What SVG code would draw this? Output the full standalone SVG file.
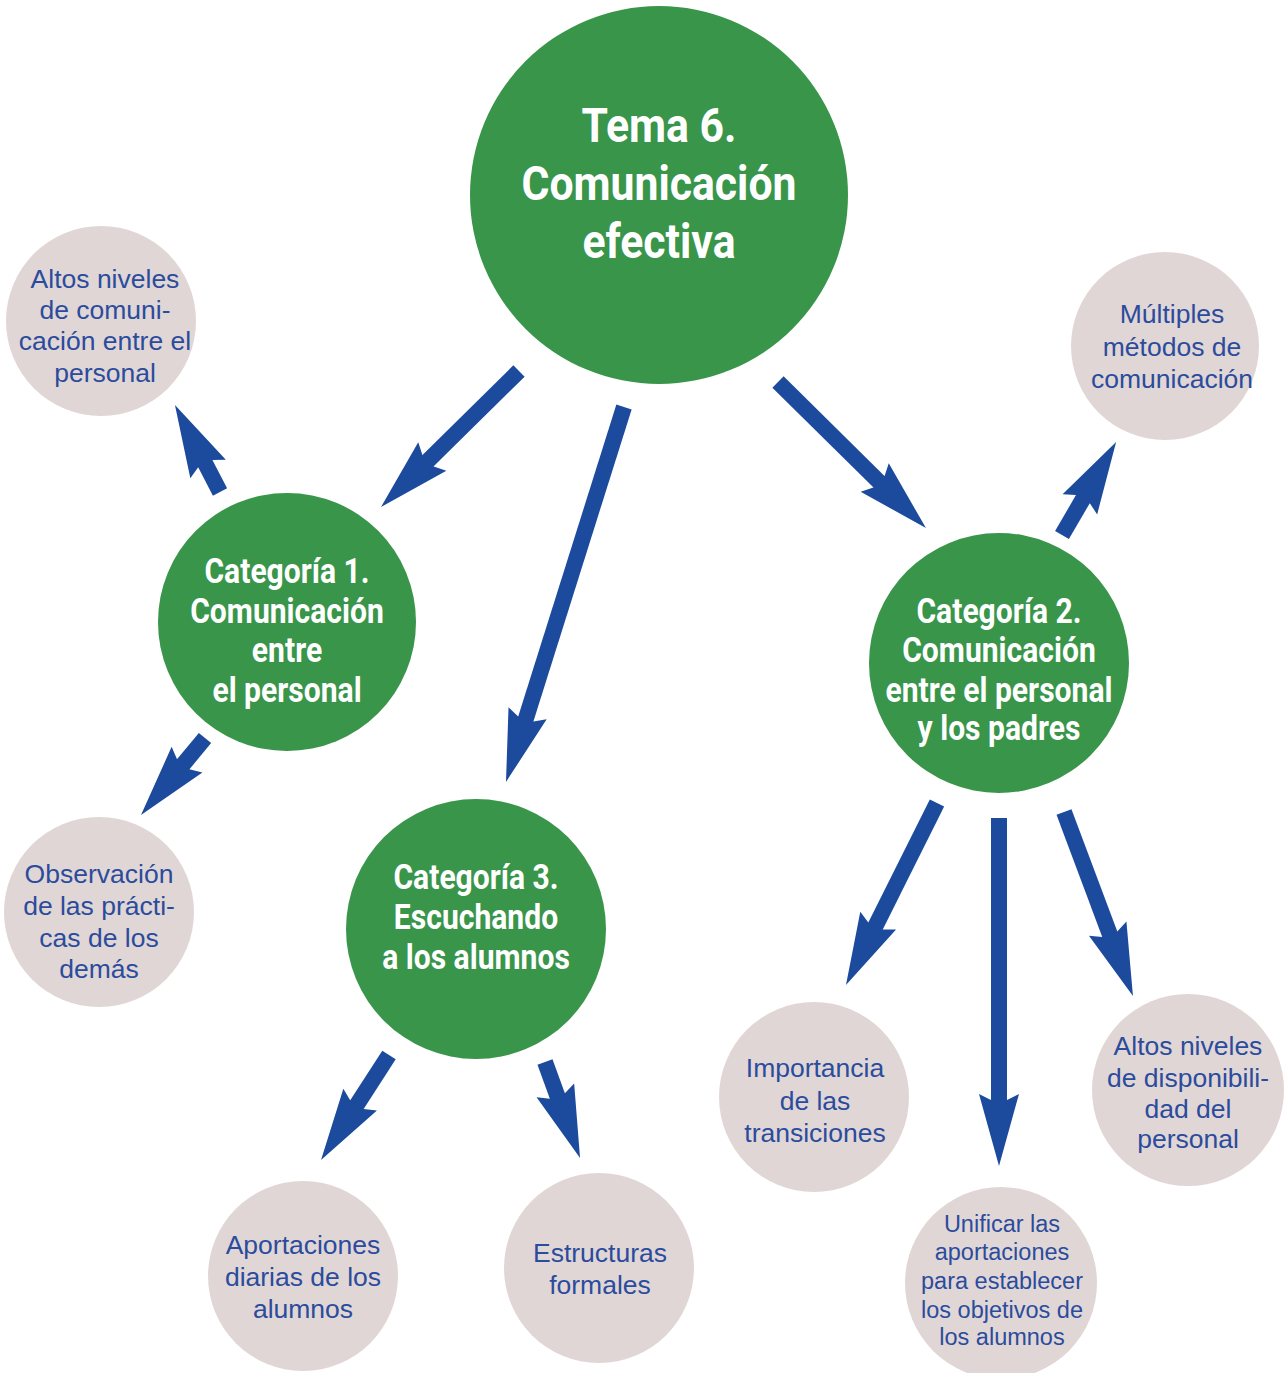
<svg xmlns="http://www.w3.org/2000/svg" width="1284" height="1373" viewBox="0 0 1284 1373">
<style>
.g{fill:#38954a}
.p{fill:#e1d6d6}
.gt{font-family:"Roboto","Liberation Sans",sans-serif;font-weight:bold;fill:#ffffff;text-anchor:middle}
.pt{font-family:"Liberation Sans",Arial,sans-serif;fill:#2b4c9c;text-anchor:middle;font-size:26.5px}
.a{stroke:#1c4a9c;stroke-width:16;fill:none;marker-end:url(#ah)}
</style>
<defs>
<marker id="ah" markerUnits="userSpaceOnUse" viewBox="-75 -22 77 44" refX="-64" refY="0" markerWidth="77" markerHeight="44" orient="auto" overflow="visible">
<path d="M0,0 L-72,-20 L-66,-8 L-66,8 L-72,20 Z" fill="#1c4a9c"/>
</marker>
</defs>
<rect width="1284" height="1373" fill="#ffffff"/>
<g id="connectors">
<line class="a" x1="519" y1="371" x2="426.6" y2="462.1"/>
<line class="a" x1="624" y1="407" x2="525.2" y2="720.9"/>
<line class="a" x1="778" y1="382" x2="880.4" y2="483.1"/>
<line class="a" x1="220" y1="492" x2="204.4" y2="461.9"/>
<line class="a" x1="205" y1="738" x2="181.9" y2="765.8"/>
<line class="a" x1="1062" y1="535" x2="1083.9" y2="497.4"/>
<line class="a" x1="937" y1="803" x2="874.6" y2="927.8"/>
<line class="a" x1="999" y1="818" x2="999" y2="1102"/>
<line class="a" x1="1064" y1="812" x2="1110.5" y2="936.1"/>
<line class="a" x1="389" y1="1055" x2="355.8" y2="1106.3"/>
<line class="a" x1="545" y1="1062" x2="558.1" y2="1097.9"/>
</g>
<g id="tema6">
<circle class="g" cx="659" cy="195" r="189"/>
<text class="gt" font-size="48" transform="translate(659,0) scale(0.89,1)"><tspan x="0" y="142">Tema 6.</tspan><tspan x="0" y="200">Comunicación</tspan><tspan x="0" y="258">efectiva</tspan></text>
</g>
<g id="cat1">
<circle class="g" cx="287" cy="622" r="129"/>
<text class="gt" font-size="35" transform="translate(287,0) scale(0.86,1)"><tspan x="0" y="583">Categoría 1.</tspan><tspan x="0" y="623">Comunicación</tspan><tspan x="0" y="662">entre</tspan><tspan x="0" y="702">el personal</tspan></text>
</g>
<g id="cat2">
<circle class="g" cx="999" cy="663" r="130"/>
<text class="gt" font-size="35" transform="translate(999,0) scale(0.86,1)"><tspan x="0" y="623">Categoría 2.</tspan><tspan x="0" y="662">Comunicación</tspan><tspan x="0" y="702">entre el personal</tspan><tspan x="0" y="740">y los padres</tspan></text>
</g>
<g id="cat3">
<circle class="g" cx="476" cy="929" r="130"/>
<text class="gt" font-size="35" transform="translate(476,0) scale(0.86,1)"><tspan x="0" y="889">Categoría 3.</tspan><tspan x="0" y="929">Escuchando</tspan><tspan x="0" y="969">a los alumnos</tspan></text>
</g>
<g id="altos-comunicacion">
<circle class="p" cx="101" cy="321" r="95"/>
<text class="pt"><tspan x="105" y="288">Altos niveles</tspan><tspan x="105" y="319">de comuni-</tspan><tspan x="105" y="350">cación entre el</tspan><tspan x="105" y="382">personal</tspan></text>
</g>
<g id="multiples">
<circle class="p" cx="1165" cy="346" r="94"/>
<text class="pt"><tspan x="1172" y="323">Múltiples</tspan><tspan x="1172" y="356">métodos de</tspan><tspan x="1172" y="388">comunicación</tspan></text>
</g>
<g id="observacion">
<circle class="p" cx="99" cy="912" r="95"/>
<text class="pt"><tspan x="99" y="883">Observación</tspan><tspan x="99" y="915">de las prácti-</tspan><tspan x="99" y="947">cas de los</tspan><tspan x="99" y="978">demás</tspan></text>
</g>
<g id="aportaciones">
<circle class="p" cx="303" cy="1276" r="95"/>
<text class="pt"><tspan x="303" y="1254">Aportaciones</tspan><tspan x="303" y="1286">diarias de los</tspan><tspan x="303" y="1318">alumnos</tspan></text>
</g>
<g id="estructuras">
<circle class="p" cx="599" cy="1268" r="95"/>
<text class="pt"><tspan x="600" y="1262">Estructuras</tspan><tspan x="600" y="1294">formales</tspan></text>
</g>
<g id="importancia">
<circle class="p" cx="814" cy="1097" r="95"/>
<text class="pt"><tspan x="815" y="1077">Importancia</tspan><tspan x="815" y="1110">de las</tspan><tspan x="815" y="1142">transiciones</tspan></text>
</g>
<g id="unificar">
<circle class="p" cx="1001" cy="1283" r="96"/>
<text class="pt" style="font-size:23.5px"><tspan x="1002" y="1232">Unificar las</tspan><tspan x="1002" y="1260">aportaciones</tspan><tspan x="1002" y="1289">para establecer</tspan><tspan x="1002" y="1318">los objetivos de</tspan><tspan x="1002" y="1345">los alumnos</tspan></text>
</g>
<g id="altos-disponibilidad">
<circle class="p" cx="1188" cy="1090" r="96"/>
<text class="pt"><tspan x="1188" y="1055">Altos niveles</tspan><tspan x="1188" y="1087">de disponibili-</tspan><tspan x="1188" y="1118">dad del</tspan><tspan x="1188" y="1148">personal</tspan></text>
</g>
</svg>
